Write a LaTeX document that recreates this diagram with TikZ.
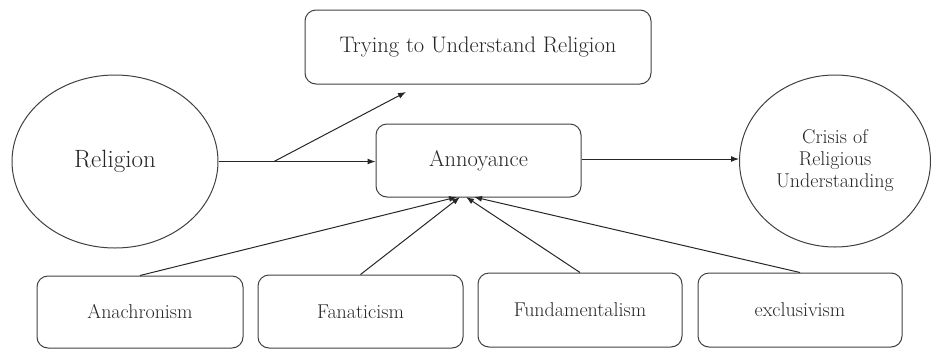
\documentclass[tikz,border=0pt]{standalone}
\usetikzlibrary{shapes.geometric,arrows.meta,calc}
\begin{document}
\begin{tikzpicture}[x=1pt,y=-1pt,
  box/.style={draw=black!75, line width=1pt, rounded corners=11pt, inner sep=0pt, align=center,
     text=black!85, font=\fontsize{20}{24}\selectfont},
  oval/.style={draw=black!75, line width=1pt, ellipse, inner sep=0pt, align=center, text=black!85},
  arr/.style={draw=black!85, line width=1pt, -{Latex[length=8pt,width=6pt]}}
]
\useasboundingbox (0,0) rectangle (932,349);
\node[box, minimum width=346pt, minimum height=74pt, font=\fontsize{22.5}{26}\selectfont] (top) at (478,47) {Trying to Understand Religion};
\node[box, minimum width=205pt, minimum height=73pt, font=\fontsize{22.5}{26}\selectfont] (ann) at (478.5,160.5) {Annoyance};
\node[oval, minimum width=206pt, minimum height=173pt, font=\fontsize{25}{29}\selectfont] (rel) at (115,161.5) {Religion};
\node[oval, minimum width=191pt, minimum height=172pt, font=\fontsize{20}{22}\selectfont] (cri) at (835,161) {Crisis of\\Religious\\Understanding};
\node[box, minimum width=206pt, minimum height=72pt] (ana) at (140,312) {Anachronism};
\node[box, minimum width=205pt, minimum height=73pt] (fan) at (360.5,311.5) {Fanaticism};
\node[box, minimum width=204pt, minimum height=74pt] (fun) at (580,310) {Fundamentalism};
\node[box, minimum width=204pt, minimum height=74pt] (exc) at (800,310) {exclusivism};

\coordinate (br) at (274,161.5);
\coordinate (tipT) at (406,92);
\coordinate (t1) at (457,197);
\coordinate (t2) at (460,197);
\coordinate (t3) at (466,197);
\coordinate (t4) at (474,197);

\draw[arr] (rel.east) -- (rel.east -| ann.west);
\draw[arr] (br) -- (tipT);
\draw[arr] (ann.east |- 159,159) -- (cri.west |- 159,159);
\draw[arr] (ana.north) -- (t1);
\draw[arr] (fan.north) -- (t2);
\draw[arr] (fun.north) -- (t3);
\draw[arr] (exc.north) -- (t4);
\end{tikzpicture}
\end{document}
